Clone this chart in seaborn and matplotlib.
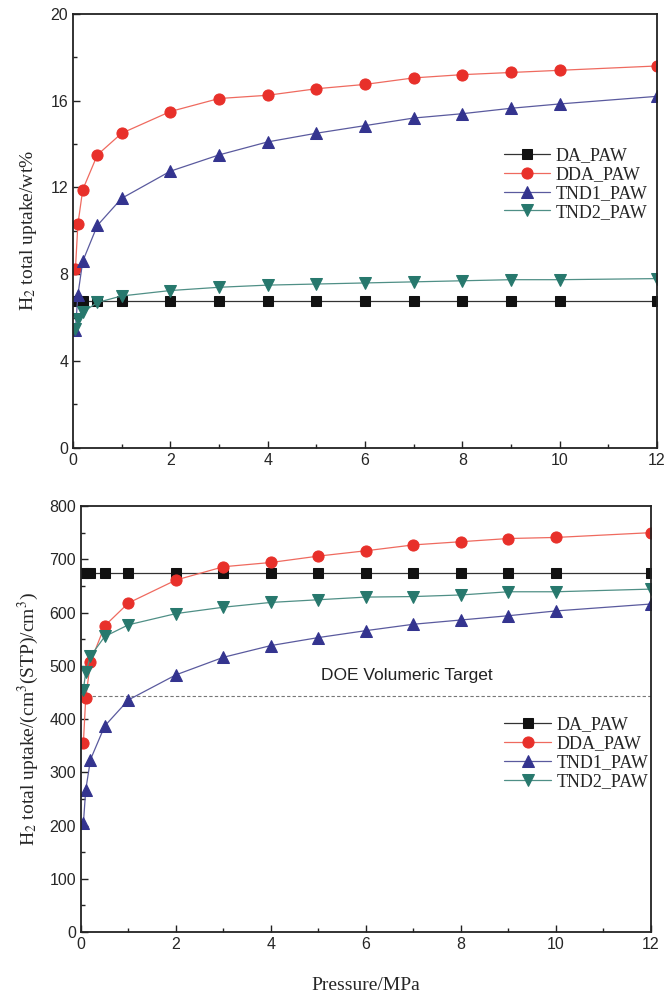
import numpy as np
import pandas as pd
import seaborn as sns
import matplotlib.pyplot as plt
from matplotlib.ticker import MultipleLocator

# Pressure points (MPa)
pressure = [0.05, 0.1, 0.2, 0.5, 1, 2, 3, 4, 5, 6, 7, 8, 9, 10, 12]

# Gravimetric uptake (wt%)
da_wt = [6.75] * 15
dda_wt = [8.25, 10.3, 11.9, 13.5, 14.5, 15.5, 16.1, 16.25, 16.55, 16.75, 17.05, 17.2, 17.3, 17.4, 17.6]
tnd1_wt = [5.45, 7.05, 8.6, 10.25, 11.5, 12.75, 13.5, 14.1, 14.5, 14.85, 15.2, 15.4, 15.65, 15.85, 16.2]
tnd2_wt = [5.5, 5.95, 6.25, 6.7, 7.0, 7.25, 7.4, 7.5, 7.55, 7.6, 7.65, 7.7, 7.75, 7.75, 7.8]

# Volumetric uptake (cm3(STP)/cm3)
da_vol = [675] * 15
dda_vol = [355, 440, 507, 575, 618, 661, 686, 694, 706, 716, 727, 733, 739, 741, 750]
tnd1_vol = [204, 267, 324, 387, 436, 483, 516, 538, 553, 566, 578, 586, 594, 603, 616]
tnd2_vol = [455, 488, 518, 555, 577, 598, 610, 619, 624, 629, 630, 633, 639, 639, 644]

doe_target = 443

names = ["DA_PAW", "DDA_PAW", "TND1_PAW", "TND2_PAW"]
colors = ["#111111", "#e8302a", "#34348f", "#27786d"]
line_colors = ["#333333", "#ef6a5f", "#5a5a9e", "#4f8f86"]
markers = ["s", "o", "^", "v"]
msizes = [6.8, 8, 8, 8]

sns.set_style("ticks")
plt.rcParams["font.family"] = ["Liberation Sans", "DejaVu Sans"]
plt.rcParams["mathtext.fontset"] = "stix"
plt.rcParams["xtick.direction"] = "in"
plt.rcParams["ytick.direction"] = "in"

fig = plt.figure(figsize=(6.65, 9.93), dpi=100)
ax1 = fig.add_axes([0.1098, 0.549, 0.878, 0.437])
ax2 = fig.add_axes([0.1218, 0.0614, 0.857, 0.429])

serif = ["Liberation Serif", "DejaVu Serif"]


def draw(ax, series):
    for name, vals, c, lc, m, ms in zip(names, series, colors, line_colors, markers, msizes):
        sns.lineplot(x=pressure, y=vals, ax=ax, color=lc, lw=0.9,
                     marker=m, markersize=ms, markerfacecolor=c,
                     markeredgecolor=c, label=name)
    ax.set_xlim(0, 12)
    ax.xaxis.set_major_locator(MultipleLocator(2))
    ax.xaxis.set_minor_locator(MultipleLocator(1))
    ax.tick_params(which="major", length=5, width=1, labelsize=11.5, color="#222222")
    ax.tick_params(which="minor", length=3, width=1, color="#222222")
    for s in ax.spines.values():
        s.set_linewidth(1.3)
        s.set_color("#222222")


legend_kw = dict(loc="upper left", frameon=False, prop={"family": serif, "size": 13},
                 handlelength=2.6, handletextpad=0.3, labelspacing=0.1, borderaxespad=0)

draw(ax1, [da_wt, dda_wt, tnd1_wt, tnd2_wt])
ax1.set_ylim(0, 20)
ax1.yaxis.set_major_locator(MultipleLocator(4))
ax1.yaxis.set_minor_locator(MultipleLocator(2))
ax1.set_ylabel("H$_2$ total uptake/wt%", family=serif, fontsize=14, labelpad=8)
ax1.legend(bbox_to_anchor=(0.725, 0.709), **legend_kw)

draw(ax2, [da_vol, dda_vol, tnd1_vol, tnd2_vol])
ax2.axhline(doe_target, color="#777777", lw=0.8, ls=(0, (3, 2)), zorder=1)
ax2.text(6.86, 473, "DOE Volumeric Target", ha="center", va="baseline", fontsize=12.5, color="#222222")
ax2.set_ylim(0, 800)
ax2.yaxis.set_major_locator(MultipleLocator(100))
ax2.yaxis.set_minor_locator(MultipleLocator(50))
ax2.set_ylabel("H$_2$ total uptake/(cm$^3$(STP)/cm$^3$)", family=serif, fontsize=14, labelpad=6)
ax2.set_xlabel("Pressure/MPa", family=serif, fontsize=14, labelpad=18)
ax2.legend(bbox_to_anchor=(0.73, 0.523), **legend_kw)

fig.savefig("out.png", dpi=100)
